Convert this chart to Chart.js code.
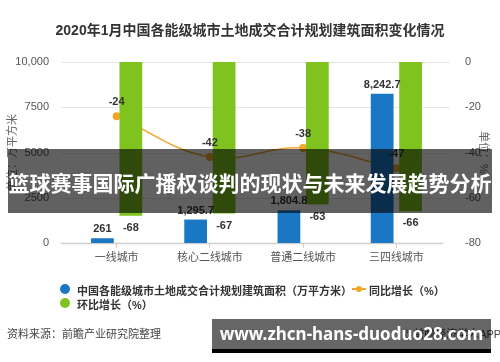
<!DOCTYPE html>
<html>
<head>
<meta charset="utf-8">
<script src="https://cdn.jsdelivr.net/npm/chart.js@4"></script>
<style>
  body { margin: 0; background: #fff; }
  #wrap { position: relative; width: 500px; height: 362px; overflow: hidden;
          font-family: "Liberation Sans", "Noto Sans CJK SC", sans-serif; }
  #chart { position: absolute; left: 0; top: 0; }
  .txt { position: absolute; white-space: nowrap; }
  #title { left: 0; width: 500px; top: 19px; text-align: center; font-size: 14px; font-weight: bold; color: #333; }
  .dot { position: absolute; width: 10px; height: 10px; border-radius: 50%; }
  .leg { font-size: 11px; color: #333; font-weight: bold; }
  #band { position: absolute; left: 8px; top: 149px; width: 484px; height: 64px; background: rgba(0,0,0,0.62);
          color: #fff; font: bold 21px "Noto Sans CJK SC", sans-serif; line-height: 66px; text-align: center; white-space: nowrap; }
  #site { position: absolute; left: 212px; top: 319px; width: 279px; height: 30px; background: rgba(0,0,0,0.6);
          border-bottom: 4px solid #000; color: #fff; font: bold 17px "Noto Sans", sans-serif; line-height: 30px; text-align: center; white-space: nowrap; }
</style>
</head>
<body>
<div id="wrap">
  <canvas id="chart" width="500" height="362"></canvas>
  <div id="title" class="txt">2020年1月中国各能级城市土地成交合计规划建筑面积变化情况</div>

  <div class="dot" style="left:60px;top:284px;background:#1a77c4"></div>
  <div class="txt leg" style="left:77px;top:282px">中国各能级城市土地成交合计规划建筑面积（万平方米）</div>
  <div style="position:absolute;left:352px;top:288px;width:14px;height:2px;background:#f2a62b"></div>
  <div class="dot" style="left:356px;top:286px;width:6px;height:6px;background:#f2a62b"></div>
  <div class="txt leg" style="left:369px;top:282px">同比增长（%）</div>
  <div class="dot" style="left:60px;top:298px;background:#7fc31f"></div>
  <div class="txt leg" style="left:77px;top:296px">环比增长（%）</div>

  <div class="txt" style="left:7px;top:325px;font-size:11px;color:#444">资料来源：前瞻产业研究院整理</div>
  <div class="txt" style="left:402px;top:325px;font-size:11px;color:#444">@前瞻经济学人APP</div>

  <div id="band">篮球赛事国际广播权谈判的现状与未来发展趋势分析</div>
  <div id="site">www.zhcn-hans-duoduo28.com</div>
</div>
<script>
// ---------- data ----------
const categories = ["一线城市", "核心二线城市", "普通二线城市", "三四线城市"];
const areaValues = [261, 1295.7, 1804.8, 8242.7];   // 万平方米
const yoyValues = [-24, -42, -38, -47];              // 同比 %
const momValues = [-68, -67, -63, -66];              // 环比 %
const leftTickLabels = ["0", "2500", "5000", "7500", "10,000"];
const rightTickLabels = ["-80", "-60", "-40", "-20", "0"];

const BLUE = "#1a77c4", GREEN = "#7fc31f", ORANGE = "#f2a62b";
const FONT = "'Liberation Sans', 'Noto Sans CJK SC', sans-serif";

// horizontal grid lines, a bit wider than the chart area
const gridPlugin = {
  id: "grid",
  beforeDatasetsDraw(chart) {
    const { ctx } = chart;
    const y = chart.scales.y;
    ctx.save();
    y.ticks.forEach((t, i) => {
      const py = Math.round(y.getPixelForValue(t.value)) + 0.5;
      ctx.strokeStyle = i === 0 ? "#cfcfcf" : "#e6e6e6";
      ctx.lineWidth = i === 0 ? 1.5 : 1;
      ctx.beginPath();
      ctx.moveTo(61, py);
      ctx.lineTo(i === 0 ? 443 : 450, py);
      ctx.stroke();
    });
    ctx.restore();
  }
};

// value labels
const labelPlugin = {
  id: "labels",
  afterDatasetsDraw(chart) {
    const { ctx } = chart;
    ctx.save();
    ctx.font = "bold 11px " + FONT;
    ctx.fillStyle = "#333";
    ctx.textAlign = "center";
    ctx.textBaseline = "middle";
    chart.getDatasetMeta(0).data.forEach((el, i) => {
      ctx.fillText(areaValues[i].toLocaleString("en-US"), el.x, el.y - 9);
    });
    chart.getDatasetMeta(1).data.forEach((el, i) => {
      ctx.fillText(String(momValues[i]), el.x, el.y + 12);
    });
    chart.getDatasetMeta(2).data.forEach((el, i) => {
      ctx.fillText(String(yoyValues[i]), el.x, el.y - 14);
    });
    ctx.restore();
  }
};

new Chart(document.getElementById("chart"), {
  type: "bar",
  data: {
    labels: categories,
    datasets: [
      { label: "中国各能级城市土地成交合计规划建筑面积（万平方米）", data: areaValues, yAxisID: "y",
        backgroundColor: BLUE, order: 1, categoryPercentage: 0.61, barPercentage: 0.8 },
      { label: "环比增长（%）", data: momValues, yAxisID: "y1",
        backgroundColor: GREEN, order: 2, categoryPercentage: 0.61, barPercentage: 0.8 },
      { type: "line", label: "同比增长（%）", data: yoyValues, yAxisID: "y1", order: 3,
        borderColor: ORANGE, backgroundColor: ORANGE, borderWidth: 1.5, tension: 0.4,
        pointRadius: 4, pointBorderWidth: 0, pointBackgroundColor: ORANGE }
    ]
  },
  options: {
    responsive: false,
    animation: false,
    layout: { padding: { top: 62, left: 0, right: 0, bottom: 0 } },
    plugins: { legend: { display: false }, tooltip: { enabled: false }, title: { display: false } },
    scales: {
      x: {
        offset: true,
        grid: { display: true, drawOnChartArea: false, offset: false, tickLength: 5, color: "#cfcfcf" },
        border: { display: false },
        ticks: { color: "#555", font: { size: 11, family: FONT }, padding: 3 },
        afterFit(s) { s.height = 119; }
      },
      y: {
        position: "left", min: 0, max: 10000,
        grid: { display: false }, border: { display: false },
        ticks: { stepSize: 2500, padding: 13, color: "#555", font: { size: 11, family: FONT },
                 callback: (v, i) => leftTickLabels[i] },
        title: { display: true, text: "单位：万平方米", color: "#666", font: { size: 11, family: FONT }, padding: 6 },
        afterFit(s) { s.width = 70; }
      },
      y1: {
        position: "right", min: -80, max: 0,
        grid: { display: false }, border: { display: false },
        ticks: { stepSize: 20, padding: 14, color: "#555", font: { size: 11, family: FONT },
                 callback: (v, i) => rightTickLabels[i] },
        title: { display: true, text: "单位：%", color: "#666", font: { size: 11, family: FONT }, padding: 10 },
        afterFit(s) { s.width = 57; }
      }
    }
  },
  plugins: [gridPlugin, labelPlugin]
});
</script>
</body>
</html>
